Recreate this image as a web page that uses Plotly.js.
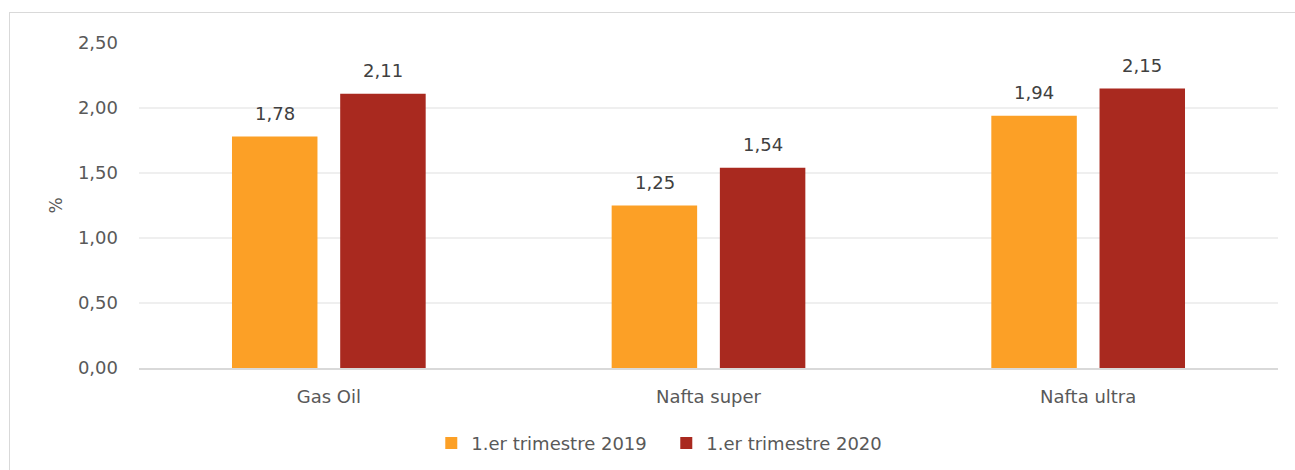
<!DOCTYPE html>
<html>
<head>
<meta charset="utf-8">
<script src="https://cdn.plot.ly/plotly-3.0.1.min.js"></script>
<style>
html,body{margin:0;padding:0;background:#fff;}
#wrap{position:relative;width:1295px;height:470px;overflow:hidden;}
#chart{width:1295px;height:470px;}
#frame{position:absolute;left:9px;top:12px;width:1400px;height:600px;border:1.5px solid #d9d9d9;pointer-events:none;}
</style>
</head>
<body>
<div id="wrap"><div id="chart"></div><div id="frame"></div></div>
<script>
const categories = ["Gas Oil", "Nafta super", "Nafta ultra"];
const series2019 = [1.78, 1.25, 1.94];
const series2020 = [2.11, 1.54, 2.15];
const seriesNames = ["1.er trimestre 2019", "1.er trimestre 2020"];
const yTicks = [0, 0.5, 1, 1.5, 2, 2.5];

const font = "'DejaVu Sans', sans-serif";
const colors = ['#FCA026', '#A9291F'];
const allSeries = [series2019, series2020];
const data = allSeries.map((vals, i) => ({
  type: 'bar', name: seriesNames[i], x: categories, y: vals,
  marker: {color: colors[i]}, hoverinfo: 'skip'
}));
const fmt = v => v.toFixed(2).replace('.', ',');
const annotations = [];
allSeries.forEach((vals, i) => {
  vals.forEach((v, j) => {
    annotations.push({
      x: categories[j], y: v, xref: 'x', yref: 'y',
      text: fmt(v), showarrow: false, yanchor: 'bottom',
      xshift: (i === 0 ? -54 : 54), yshift: 11,
      font: {family: font, size: 18, color: '#404040'}
    });
  });
});
const layout = {
  width: 1295, height: 470,
  margin: {l: 139, r: 17, t: 43, b: 102},
  separators: ',.',
  paper_bgcolor: '#fff', plot_bgcolor: '#fff',
  barmode: 'group', bargap: 0.43, bargroupgap: 0.21,
  font: {family: font, size: 18, color: '#595959'},
  showlegend: true,
  annotations: annotations,
  legend: {orientation: 'h', xref: 'container', x: 0.5145, xanchor: 'center', yref: 'container', y: 0.057, yanchor: 'middle',
           font: {family: font, size: 18, color: '#595959'}, traceorder: 'normal', itemwidth: 30,
           entrywidth: 190, entrywidthmode: 'pixels'},
  xaxis: {type: 'category', showgrid: false, showline: true, linecolor: '#d9d9d9', linewidth: 1.5,
          ticks: '', tickfont: {family: font, size: 18, color: '#595959'}, ticklabelstandoff: 12},
  yaxis: {range: [0, 2.5], tickvals: yTicks, tickformat: '.2f', showgrid: true, gridcolor: '#efefef', gridwidth: 1.5,
          zeroline: false, showline: false, ticks: '', tickfont: {family: font, size: 18, color: '#595959'},
          ticklabelstandoff: 20, automargin: false,
          title: {text: '%', standoff: 10, font: {family: font, size: 17, color: '#595959'}}}
};
Plotly.newPlot('chart', data, layout, {staticPlot: true, displayModeBar: false});
</script>
</body>
</html>
